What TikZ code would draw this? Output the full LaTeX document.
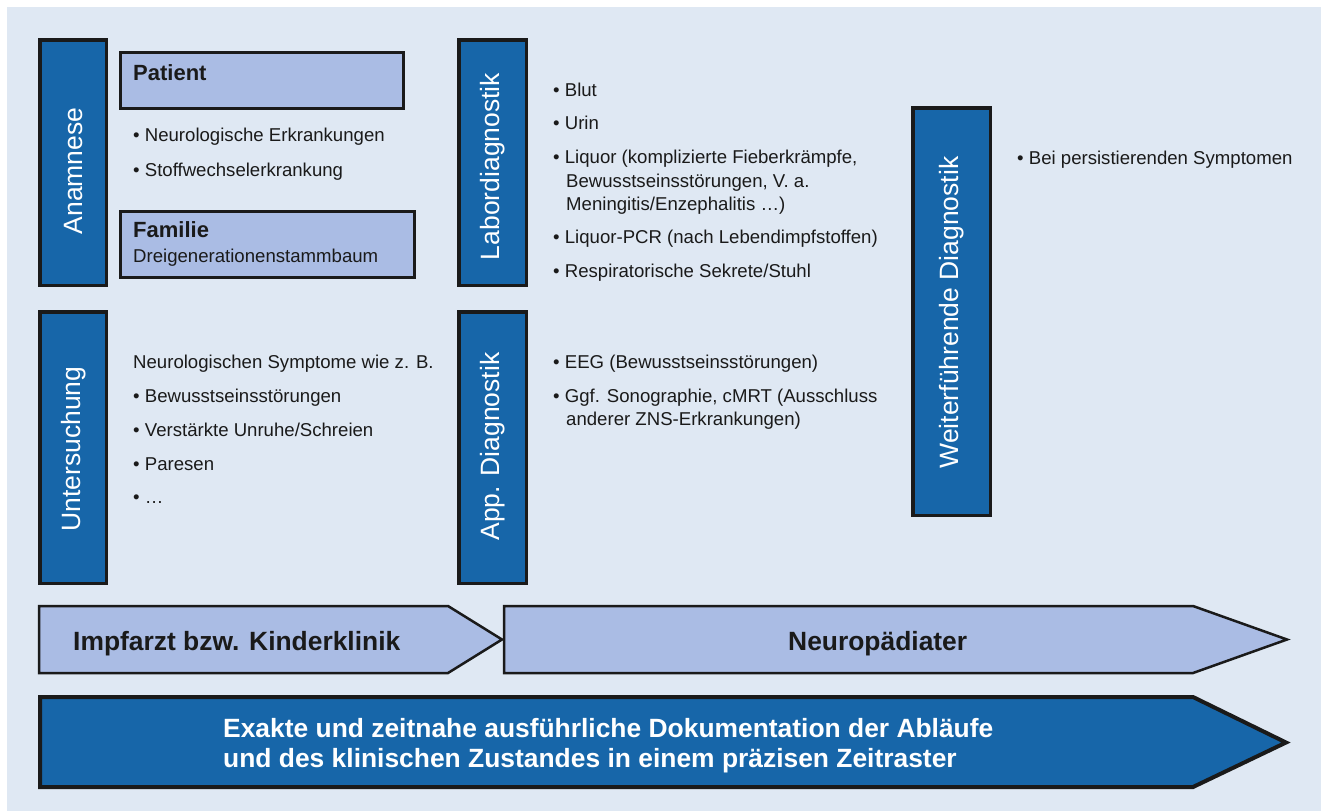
\documentclass[tikz,border=0pt]{standalone}
\usepackage{fontspec}
\setmainfont{Liberation Sans}
\usepackage{tikz}

\definecolor{bgblue}{HTML}{DFE8F3}
\definecolor{darkbox}{HTML}{1766A9}
\definecolor{lightbox}{HTML}{AABCE4}
\definecolor{edge}{HTML}{1A1A1A}

\newcommand{\bodyfont}{\fontsize{18.6}{23.5}\selectfont}
\newcommand{\headfont}{\fontsize{26.4}{30}\selectfont\bfseries}
\newcommand{\sidefont}{\fontsize{26.5}{30}\selectfont}

\begin{document}
\begin{tikzpicture}[x=1pt, y=-1pt,
    sidebox/.style={draw=edge, line width=3.5pt, fill=darkbox, inner sep=0pt},
    sidelabel/.style={rotate=90, text=white, font=\sidefont, inner sep=0pt},
    headbox/.style={draw=edge, line width=3pt, fill=lightbox, inner sep=0pt, anchor=north west},
    item/.style={anchor=base west, font=\bodyfont, inner sep=0pt, text=edge},
    bigtext/.style={anchor=base west, font=\headfont, inner sep=0pt}]
    \useasboundingbox (0,0) rectangle (1321,811);
    \fill[bgblue] (7,7) rectangle (1321,811);

    \node[sidebox, minimum width=66.5, minimum height=245.5] (anamnese) at (73,162.5) {};
    \node[sidebox, minimum width=66.5, minimum height=271.5] (untersuchung) at (73,447.5) {};
    \node[sidebox, minimum width=67.5, minimum height=245.5] (labor) at (492.5,162.5) {};
    \node[sidebox, minimum width=67.5, minimum height=271.5] (app) at (492.5,447.5) {};
    \node[sidebox, minimum width=77.5, minimum height=407.5] (weiter) at (951.5,311.5) {};
    \node[sidelabel] (anamneselabel) at (74,171) {Anamnese};
    \node[sidelabel] (untersuchunglabel) at (74,449) {Untersuchung};
    \node[sidelabel] (laborlabel) at (493,166.5) {Labordiagnostik};
    \node[sidelabel] (applabel) at (493,446.5) {App. Diagnostik};
    \node[sidelabel] (weiterlabel) at (952,312.5) {Weiterführende Diagnostik};

    \node[headbox, minimum width=283, minimum height=56] (patient) at (118.5,50.5) {};
    \node[headbox, minimum width=294, minimum height=66] (familie) at (118.5,209.5) {};
    \node[item, font=\fontsize{22}{26}\selectfont\bfseries] (patienttext) at (133,80) {Patient};
    \node[item, font=\fontsize{22}{26}\selectfont\bfseries] (familietext) at (133,237) {Familie};
    \node[item] (stammbaum) at (133,262) {Dreigenerationenstammbaum};
    \node[item] (neuro) at (133,141) {• Neurologische Erkrankungen};
    \node[item] (stoff) at (133,176) {• Stoffwechselerkrankung};

    \node[item] (symptome) at (133,368) {Neurologischen Symptome wie z. B.};
    \node[item] (bewusst) at (133,402) {• Bewusstseinsstörungen};
    \node[item] (unruhe) at (133,436) {• Verstärkte Unruhe/Schreien};
    \node[item] (paresen) at (133,470) {• Paresen};
    \node[item] (weitere) at (133,503) {• …};

    \node[item] (blut) at (553,96) {• Blut};
    \node[item] (urin) at (553,129) {• Urin};
    \node[item] (liquor) at (553,163) {• Liquor (komplizierte Fieberkrämpfe,};
    \node[item] (liquorb) at (566,187) {Bewusstseinsstörungen, V. a.};
    \node[item] (liquorc) at (566,210) {Meningitis/Enzephalitis …)};
    \node[item] (pcr) at (553,243) {• Liquor-PCR (nach Lebendimpfstoffen)};
    \node[item] (sekrete) at (553,277) {• Respiratorische Sekrete/Stuhl};

    \node[item] (eeg) at (553,368) {• EEG (Bewusstseinsstörungen)};
    \node[item] (sono) at (553,402) {• Ggf. Sonographie, cMRT (Ausschluss};
    \node[item] (sonob) at (566,425) {anderer ZNS-Erkrankungen)};

    \node[item] (persist) at (1017,164) {• Bei persistierenden Symptomen};

    \draw[draw=edge, line width=2.5pt, fill=lightbox] (39,606) -- (448,606) -- (502,639.5) -- (448,673) -- (39,673) -- cycle;
    \draw[draw=edge, line width=2.5pt, fill=lightbox] (504,606) -- (1193,606) -- (1287,639.5) -- (1193,673) -- (504,673) -- cycle;
    \draw[draw=edge, line width=4pt, fill=darkbox] (40,697) -- (1193,697) -- (1286,742.5) -- (1193,787) -- (40,787) -- cycle;
    \node[bigtext, text=edge] (impfarzt) at (73,650) {Impfarzt bzw. Kinderklinik};
    \node[bigtext, text=edge] (neuropaed) at (788,650) {Neuropädiater};
    \node[bigtext, text=white] (doku) at (223,737) {Exakte und zeitnahe ausführliche Dokumentation der Abläufe};
    \node[bigtext, text=white] (dokub) at (223,767) {und des klinischen Zustandes in einem präzisen Zeitraster};

\end{tikzpicture}
\end{document}
